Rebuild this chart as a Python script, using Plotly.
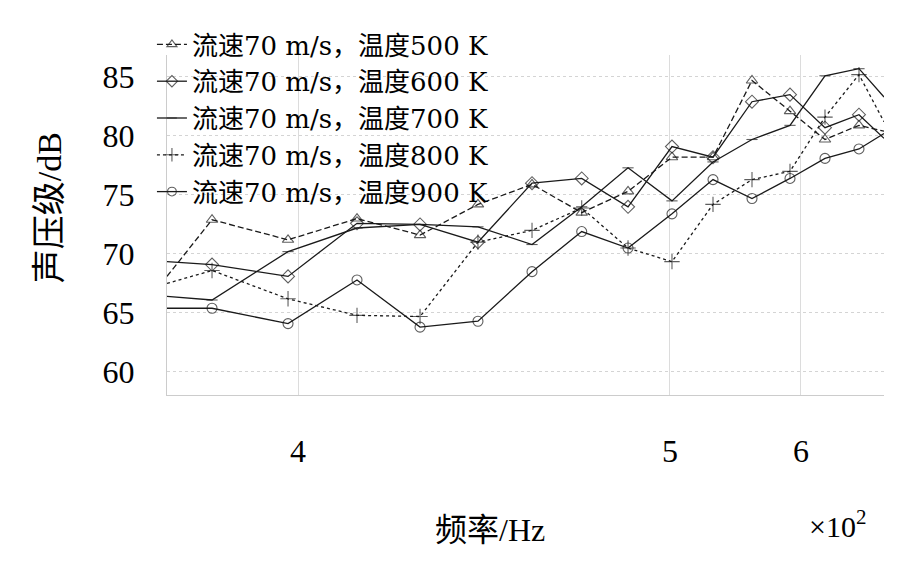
import plotly.graph_objects as go

# x positions of the sampled frequencies along the (non-uniform) axis, 0..100 = plot width
x_pos = [0, 6.28, 16.88, 26.5, 35.29, 43.37, 50.91, 57.84, 64.3, 70.43, 76.15, 81.59, 86.89, 91.77, 96.51, 100]
tick_pos = [18.27, 70.15, 88.42]
tick_text = ["4", "5", "6"]

names = ["流速70 m/s，温度500 K", "流速70 m/s，温度600 K", "流速70 m/s，温度700 K",
         "流速70 m/s，温度800 K", "流速70 m/s，温度900 K"]

spl_500 = [68.1, 72.9, 71.2, 73.0, 71.6, 74.2, 75.9, 73.5, 75.3, 78.2, 78.2, 84.7, 82.1, 79.7, 80.9, 80.4]
spl_600 = [69.35, 69.1, 68.1, 72.6, 72.5, 71.0, 76.0, 76.4, 74.0, 79.1, 78.2, 82.9, 83.5, 80.7, 81.8, 79.8]
spl_700 = [66.4, 66.1, 70.2, 72.2, 72.5, 72.3, 70.8, 74.0, 77.3, 74.5, 77.8, 79.7, 80.9, 85.1, 85.7, 83.3]
spl_800 = [67.5, 68.6, 66.2, 64.8, 64.7, 71.0, 72.0, 73.9, 70.5, 69.35, 74.2, 76.3, 77.0, 81.6, 85.2, 81.2]
spl_900 = [65.4, 65.4, 64.1, 67.8, 63.8, 64.3, 68.5, 71.9, 70.5, 73.4, 76.3, 74.7, 76.4, 78.1, 78.9, 80.2]

series = [spl_500, spl_600, spl_700, spl_800, spl_900]
symbols = ["triangle-up-open", "diamond-open", "line-ew-open", "cross-thin-open", "circle-open"]
sizes = [10, 10, 8, 11, 10]
dashes = ["6px,3px", "solid", "solid", "3px,3px", "solid"]
ink = "#1a1a1a"

fig = go.Figure()
n = len(x_pos)
for name, ys, sym, sz, dash in zip(names, series, symbols, sizes, dashes):
    msize = [0] + [sz] * (n - 2) + [0]
    fig.add_trace(go.Scatter(
        x=x_pos, y=ys, name=name, mode="lines+markers",
        line=dict(color=ink, width=1.3, dash=dash),
        marker=dict(symbol=sym, size=msize, color=ink, line=dict(color=ink, width=1.1)),
    ))

serif = "Liberation Serif, Noto Sans CJK SC, serif"
fig.update_layout(
    width=892, height=553,
    margin=dict(l=159, r=16, t=47, b=166),
    paper_bgcolor="white", plot_bgcolor="white",
    showlegend=True,
    legend=dict(x=-0.021, y=1.1, xanchor="left", yanchor="top",
                bgcolor="rgba(0,0,0,0)", itemwidth=30,
                font=dict(family="DejaVu Serif, Noto Sans CJK SC, serif", size=26, color="black")),
    xaxis=dict(range=[0, 100], tickmode="array", tickvals=tick_pos, ticktext=tick_text,
               showgrid=True, gridcolor="#dcdcdc", gridwidth=1,
               showline=True, linecolor="#cccccc", linewidth=1, zeroline=False,
               ticks="", ticklabelstandoff=28, automargin=False,
               tickfont=dict(family=serif, size=32, color="black")),
    yaxis=dict(range=[58.05, 86.86], tickmode="array", tickvals=[60, 65, 70, 75, 80, 85],
               showgrid=True, gridcolor="#d4d4d4", gridwidth=1, griddash="dot",
               showline=True, linecolor="#cccccc", linewidth=1, zeroline=False,
               ticks="", ticklabelstandoff=25, automargin=False,
               tickfont=dict(family=serif, size=32, color="black")),
    annotations=[
        dict(text="频率/Hz", xref="paper", yref="paper", x=0.45, y=-0.397,
             xanchor="center", yanchor="middle", showarrow=False,
             font=dict(family=serif, size=32, color="black")),
        dict(text="×10<sup>2</sup>", xref="paper", yref="paper", x=0.935, y=-0.38,
             xanchor="center", yanchor="middle", showarrow=False,
             font=dict(family=serif, size=30, color="black")),
        dict(text="声压级/dB", xref="paper", yref="paper", x=-0.163, y=0.55,
             xanchor="center", yanchor="middle", showarrow=False, textangle=-90,
             font=dict(family=serif, size=34, color="black")),
    ],
)

fig.write_html("out.html")
